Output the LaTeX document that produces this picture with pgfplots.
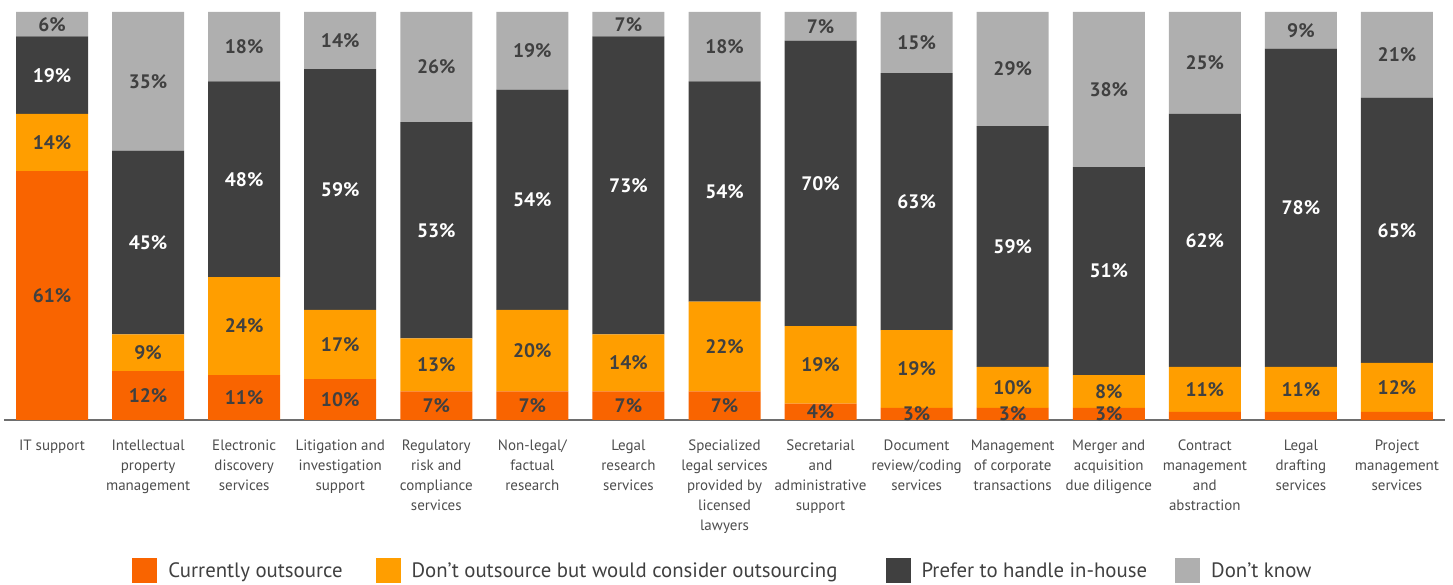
\documentclass[border=0pt]{standalone}
\usepackage{fontspec}
\setmainfont{PT Sans}
\usepackage{pgfplots}
\pgfplotsset{compat=1.18}
\usepackage{pgfplotstable}

\definecolor{cOut}{HTML}{F96400}
\definecolor{cCons}{HTML}{FF9E00}
\definecolor{cIn}{HTML}{404040}
\definecolor{cDk}{HTML}{AFAFAF}
\definecolor{cTxt}{HTML}{404040}
\definecolor{cTick}{HTML}{4D4D4D}

% a = currently outsource, b = would consider, c = in-house, d = don't know
\pgfplotstableread{
x  a  b  c  d
0  61 14 19 6
1  12 9  45 35
2  11 24 48 18
3  10 17 59 14
4  7  13 53 26
5  7  20 54 19
6  7  14 73 7
7  7  22 54 18
8  4  19 70 7
9  3  19 63 15
10 3  10 59 29
11 3  8  51 38
12 2  11 62 25
13 2  11 78 9
14 2  12 65 21
}\data

\pgfplotsset{
  common/.style={
    at={(4pt,165pt)}, anchor=south west,
    scale only axis, width=1441pt, height=408pt,
    xmin=-0.5, xmax=14.5, ymin=0, ymax=100,
  },
  lbl/.style={
    draw=none, mark=none, point meta=explicit,
    nodes near coords={\pgfmathprintnumber{\pgfplotspointmeta}\%},
    every node near coord/.append style={anchor=center, inner sep=0pt,
      font=\bfseries\fontsize{19.5}{19.5}\selectfont, text=#1,
      /pgf/number format/assume math mode=true},
  },
}

\begin{document}
\begin{tikzpicture}[x=1pt,y=1pt]
\useasboundingbox (0,0) rectangle (1453,585);
\begin{axis}[
  common,
  ybar stacked, bar width=72pt,
  axis y line=none, axis x line*=bottom,
  x axis line style={draw=black!57, line width=1.5pt, -},
  xtick={0,...,14}, major tick length=0pt,
  xticklabels={
    {IT support},
    {Intellectual\\property\\management},
    {Electronic\\discovery\\services},
    {Litigation and\\investigation\\support},
    {Regulatory\\risk and\\compliance\\services},
    {Non-legal/\\factual\\research},
    {Legal\\research\\services},
    {Specialized\\legal services\\provided by\\licensed\\lawyers},
    {Secretarial\\and\\administrative\\support},
    {Document\\review/coding\\services},
    {Management\\of corporate\\transactions},
    {Merger and\\acquisition\\due diligence},
    {Contract\\management\\and\\abstraction},
    {Legal\\drafting\\services},
    {Project\\management\\services}},
  xticklabel style={align=center, text=cTick, yshift=-16pt,
    font=\fontsize{15}{20}\selectfont},
  legend columns=4,
  legend image code/.code={\fill[#1] (0pt,-12.5pt) rectangle (25pt,12.5pt);},
  legend style={draw=none, fill=none, at={(0.4989,-0.370)}, anchor=center,
    font=\fontsize{20.8}{24}\selectfont, text=cTxt,
    /tikz/every odd column/.append style={column sep=9pt},
    /tikz/column 2/.append style={column sep=31pt},
    /tikz/column 4/.append style={column sep=46pt},
    /tikz/column 6/.append style={column sep=26pt}},
]
\addplot[fill=cOut, draw=none] table[x=x, y=a] {\data};
\addplot[fill=cCons, draw=none] table[x=x, y=b] {\data};
\addplot[fill=cIn, draw=none] table[x=x, y=c] {\data};
\addplot[fill=cDk, draw=none] table[x=x, y expr=100-\thisrow{a}-\thisrow{b}-\thisrow{c}] {\data};
\legend{Currently outsource, Don’t outsource but would consider outsourcing, Prefer to handle in-house, Don’t know}
\end{axis}

\begin{axis}[common, hide axis]
\addplot[lbl=cTxt, restrict expr to domain={\thisrow{a}}{2.5:100}]
  table[x=x, y expr=\thisrow{a}/2, meta=a] {\data};
\addplot[lbl=cTxt] table[x=x, y expr=\thisrow{a}+\thisrow{b}/2, meta=b] {\data};
\addplot[lbl=white] table[x=x, y expr=\thisrow{a}+\thisrow{b}+\thisrow{c}/2, meta=c] {\data};
\addplot[lbl=cTxt] table[x=x, y expr=(\thisrow{a}+\thisrow{b}+\thisrow{c}+100)/2, meta=d] {\data};
\end{axis}
\end{tikzpicture}
\end{document}
